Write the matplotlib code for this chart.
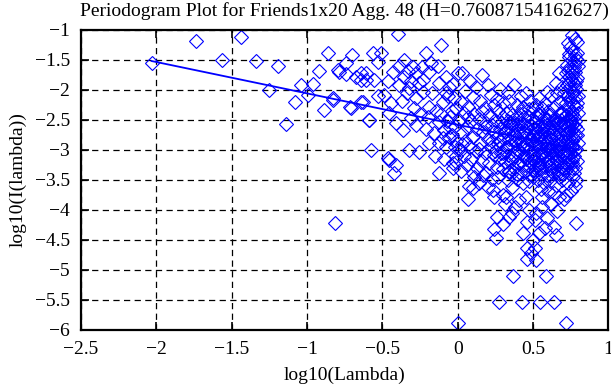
import matplotlib
matplotlib.use("Agg")
import matplotlib.pyplot as plt

# periodogram points, log10(lambda) vs log10(I(lambda))
# low frequencies (sparse left part)
lam_low = [-2.032, -1.734, -1.562, -1.436, -1.339, -1.193, -1.255, -1.041, -1.083, -1.138,
           -0.961, -0.994, -0.924, -0.862, -0.891, -0.829, -0.796, -0.701, -0.740,
           -0.785, -0.745, -0.674, -0.608, -0.641, -0.564, -0.553, -0.641, -0.714, -0.591,
           -0.575, -0.641, -0.608, -0.829, -0.586, -0.707, -0.630, -0.812]
per_low = [-1.56, -1.18, -1.50, -1.115, -1.52, -1.61, -2.00, -1.92, -2.20, -2.57,
           -1.90, -2.09, -1.68, -1.38, -2.34, -2.17, -1.67, -1.42, -1.56,
           -1.70, -1.74, -1.78, -1.72, -1.84, -1.38, -1.84, -2.20, -2.29, -2.50,
           -3.01, -1.72, -1.84, -2.14, -2.50, -2.31, -2.20, -4.22]

# middle frequencies
lam_mid = [-0.509, -0.531, -0.527, -0.465, -0.487, -0.442, -0.454, -0.310, -0.366, -0.321,
           -0.255, -0.465, -0.409, -0.399, -0.354, -0.387, -0.277, -0.321, -0.387, -0.277,
           -0.454, -0.421, -0.43, -0.36, -0.30, -0.34, -0.29, -0.41, -0.33,
           -0.26, -0.24, -0.31, -0.37, -0.25, -0.28,
           -0.211, -0.111, -0.233, -0.189, -0.122, -0.078, 0.0, -0.067, -0.023, -0.189,
           -0.144, -0.233, -0.122, -0.089, -0.156, -0.189, -0.122, -0.056, -0.122, -0.012,
           -0.03, 0.02, -0.012, -0.20, -0.17, -0.10, -0.05, -0.02, -0.08,
           -0.15, -0.04, -0.18, -0.06, -0.13, -0.21, -0.09, -0.01, -0.03, -0.08,
           -0.03, -0.11, -0.05, -0.01, -0.07, -0.04, -0.10, -0.02, 0.0,
           0.03, 0.16, 0.08, 0.12, 0.05, 0.20, 0.22, 0.10, 0.02, 0.15,
           0.07, 0.18, 0.24, 0.04, 0.11, 0.21, 0.01, 0.09, 0.14, 0.19,
           0.23, 0.06, 0.13, 0.17, 0.03, 0.24, 0.10, 0.20, 0.05, 0.15,
           0.08, 0.22, 0.01, 0.12, 0.18, 0.04, 0.24, 0.09, 0.16, 0.21,
           0.06, 0.13, 0.02, 0.19, 0.11, 0.23, 0.065, 0.077, 0.099, 0.14,
           0.20, 0.16, 0.07, 0.18, 0.03, 0.14, 0.23, 0.10, 0.17]
per_mid = [-1.39, -1.53, -2.10, -1.86, -2.09, -2.22, -2.39, -2.47, -2.67, -3.00,
           -3.03, -3.14, -3.25, -1.07, -1.50, -1.61, -1.72, -1.97, -1.92, -2.14,
           -3.17, -3.39, -1.70, -1.78, -1.62, -2.05, -2.30, -2.55, -1.68,
           -1.88, -1.62, -1.85, -2.18, -2.40, -2.58,
           -1.38, -1.25, -1.84, -1.70, -1.89, -1.78, -1.72, -2.11, -2.14, -2.28,
           -2.36, -2.03, -2.53, -2.67, -2.72, -2.89, -2.89, -2.78, -3.39, -3.11,
           -3.22, -3.00, -3.20, -2.45, -2.05, -2.20, -2.45, -2.60, -2.95,
           -3.10, -2.35, -1.55, -1.95, -1.60, -2.65, -3.15, -2.85, -3.30, -2.05,
           -1.90, -2.40, -2.62, -2.30, -2.52, -2.75, -2.80, -2.95, -5.89,
           -1.72, -1.75, -1.85, -1.95, -2.02, -1.92, -2.08, -2.12, -2.20, -2.18,
           -2.28, -2.30, -2.25, -2.38, -2.40, -2.42, -2.50, -2.52, -2.48, -2.55,
           -2.58, -2.62, -2.65, -2.70, -2.72, -2.70, -2.78, -2.82, -2.85, -2.88,
           -2.95, -2.95, -2.98, -3.02, -3.05, -3.10, -3.08, -3.15, -3.18, -3.22,
           -3.25, -3.30, -3.35, -3.38, -3.45, -3.48, -3.81, -3.61, -3.64, -3.55,
           -3.62, -2.35, -2.45, -2.62, -2.90, -2.98, -2.85, -3.38, -3.42]

# high frequencies (dense right part)
lam_high = [0.331, 0.419, 0.28, 0.37, 0.45, 0.48, 0.26, 0.30, 0.34, 0.39,
            0.43, 0.47, 0.27, 0.32, 0.36, 0.41, 0.44, 0.49, 0.25, 0.29,
            0.33, 0.38, 0.42, 0.46, 0.28, 0.31, 0.35, 0.40, 0.44, 0.48,
            0.26, 0.30, 0.34, 0.37, 0.41, 0.45, 0.49, 0.27, 0.32, 0.36,
            0.39, 0.43, 0.47, 0.25, 0.29, 0.33, 0.38, 0.42, 0.46, 0.49,
            0.28, 0.31, 0.35, 0.40, 0.44, 0.48, 0.26, 0.30, 0.34, 0.37,
            0.41, 0.45, 0.49, 0.27, 0.33, 0.39, 0.43, 0.47, 0.242, 0.319,
            0.407, 0.451, 0.231, 0.297, 0.36, 0.30, 0.42, 0.36, 0.46, 0.32,
            0.40, 0.35, 0.44, 0.28, 0.38, 0.48, 0.50, 0.50, 0.50, 0.50,
            0.253, 0.242, 0.297, 0.341, 0.36, 0.430, 0.462, 0.462, 0.485, 0.462,
            0.368, 0.275, 0.425, 0.38, 0.31, 0.47, 0.26,
            0.54, 0.595, 0.672, 0.65, 0.62, 0.58, 0.69, 0.66, 0.56, 0.52,
            0.60, 0.64, 0.68, 0.53, 0.57, 0.61, 0.65, 0.69, 0.51, 0.55,
            0.59, 0.63, 0.67, 0.52, 0.56, 0.60, 0.64, 0.68, 0.54, 0.58,
            0.62, 0.66, 0.70, 0.51, 0.55, 0.59, 0.63, 0.67, 0.53, 0.57,
            0.61, 0.65, 0.69, 0.52, 0.56, 0.60, 0.64, 0.68, 0.54, 0.58,
            0.62, 0.66, 0.70, 0.51, 0.55, 0.59, 0.63, 0.67, 0.53, 0.57,
            0.61, 0.65, 0.69, 0.561, 0.672, 0.705, 0.60, 0.55, 0.64, 0.575,
            0.615, 0.655, 0.535, 0.585, 0.625, 0.545, 0.665, 0.595, 0.635, 0.525,
            0.565, 0.605, 0.645, 0.685, 0.515, 0.555, 0.695, 0.675, 0.685,
            0.513, 0.522, 0.540, 0.513, 0.595, 0.639, 0.650, 0.588, 0.544, 0.639,
            0.52, 0.56, 0.62, 0.66, 0.58, 0.50,
            0.76, 0.728, 0.794, 0.76, 0.78, 0.745, 0.775, 0.79, 0.735, 0.755,
            0.77, 0.785, 0.725, 0.745, 0.795, 0.76, 0.78, 0.715, 0.735, 0.75,
            0.79, 0.77, 0.725, 0.745, 0.785, 0.76, 0.705, 0.73, 0.775, 0.795,
            0.75, 0.715, 0.765, 0.785, 0.735, 0.755, 0.795, 0.72, 0.77, 0.745,
            0.78, 0.705, 0.76, 0.73, 0.79, 0.75, 0.715, 0.775, 0.74, 0.76,
            0.795, 0.725, 0.755, 0.785, 0.71, 0.745, 0.77, 0.73, 0.79, 0.755,
            0.72, 0.78, 0.74, 0.765, 0.73, 0.775, 0.771, 0.760, 0.783, 0.717,
            0.74, 0.77, 0.755, 0.74, 0.78, 0.765, 0.74, 0.79, 0.725, 0.76,
            0.78, 0.735, 0.765, 0.745, 0.775, 0.72, 0.76, 0.795, 0.73, 0.785,
            0.75, 0.71, 0.79, 0.735, 0.70, 0.785, 0.75, 0.72]
per_high = [-2.03, -2.11, -1.98, -1.92, -2.05, -2.18, -2.15, -2.22, -2.18, -2.25,
            -2.28, -2.32, -2.35, -2.38, -2.42, -2.40, -2.45, -2.48, -2.50, -2.55,
            -2.52, -2.58, -2.55, -2.60, -2.65, -2.68, -2.70, -2.65, -2.72, -2.70,
            -2.78, -2.80, -2.82, -2.76, -2.85, -2.80, -2.88, -2.90, -2.95, -2.92,
            -2.98, -2.95, -3.00, -3.02, -3.05, -3.08, -3.10, -3.05, -3.12, -3.08,
            -3.15, -3.20, -3.18, -3.22, -3.25, -3.20, -3.28, -3.32, -3.35, -3.30,
            -3.38, -3.35, -3.42, -3.45, -3.50, -3.48, -3.55, -3.52, -3.78, -3.78,
            -3.83, -3.78, -3.67, -3.75, -3.62, -2.45, -2.35, -2.58, -2.90, -2.62,
            -3.00, -3.40, -3.10, -2.85, -2.88, -2.58, -2.30, -2.75, -3.15, -3.45,
            -4.47, -4.31, -4.23, -4.11, -4.05, -4.39, -4.20, -4.64, -4.72, -4.82,
            -5.10, -5.53, -5.54, -3.95, -3.90, -4.00, -4.12,
            -2.14, -2.03, -1.72, -1.88, -2.10, -2.22, -1.95, -2.05, -2.30, -2.25,
            -2.35, -2.28, -2.20, -2.40, -2.45, -2.42, -2.48, -2.38, -2.52, -2.55,
            -2.58, -2.55, -2.60, -2.65, -2.68, -2.70, -2.66, -2.72, -2.78, -2.80,
            -2.82, -2.78, -2.85, -2.88, -2.90, -2.93, -2.95, -2.90, -3.00, -3.02,
            -3.05, -3.00, -3.08, -3.12, -3.15, -3.18, -3.12, -3.20, -3.25, -3.28,
            -3.30, -3.25, -3.32, -3.35, -3.40, -3.42, -3.38, -3.45, -3.50, -3.55,
            -3.52, -3.58, -3.50, -3.78, -3.78, -3.81, -3.68, -3.65, -3.72, -2.60,
            -2.75, -2.92, -2.95, -3.10, -3.22, -3.30, -3.38, -2.48, -2.62, -2.72,
            -2.85, -2.98, -3.05, -2.95, -3.20, -3.05, -2.55, -2.40, -3.38,
            -4.64, -4.83, -4.39, -4.17, -4.14, -4.28, -4.42, -5.10, -5.54, -5.53,
            -4.05, -3.95, -3.90, -4.02, -4.30, -4.50,
            -1.09, -1.22, -1.20, -1.34, -1.15, -1.28, -1.42, -1.38, -1.45, -1.50,
            -1.55, -1.48, -1.58, -1.62, -1.60, -1.68, -1.70, -1.72, -1.78, -1.82,
            -1.80, -1.88, -1.92, -1.95, -1.98, -2.02, -2.05, -2.08, -2.12, -2.10,
            -2.18, -2.22, -2.25, -2.28, -2.32, -2.35, -2.38, -2.42, -2.45, -2.50,
            -2.52, -2.55, -2.58, -2.62, -2.65, -2.68, -2.72, -2.75, -2.80, -2.85,
            -2.88, -2.90, -2.95, -2.98, -3.02, -3.05, -3.10, -3.15, -3.18, -3.22,
            -3.28, -3.30, -3.38, -3.45, -3.55, -3.60, -3.39, -3.17, -4.22, -5.88,
            -1.40, -1.62, -1.75, -1.88, -1.92, -2.05, -2.15, -2.22, -2.28, -2.40,
            -2.60, -2.70, -2.78, -2.92, -3.00, -3.12, -3.30, -1.52, -1.68, -1.85,
            -2.45, -2.60, -2.75, -3.22, -3.40, -3.50, -3.68, -3.75]

# extra points in the solid core of the cloud
lam_core = [0.312, 0.357, 0.398, 0.436, 0.471, 0.503, 0.538, 0.567, 0.594, 0.621, 0.648, 0.673, 0.698, 0.721, 0.744,
            0.325, 0.368, 0.409, 0.447, 0.482, 0.514, 0.546, 0.577, 0.603, 0.631, 0.657, 0.681, 0.706, 0.729, 0.752,
            0.338, 0.379, 0.417, 0.455, 0.491, 0.524, 0.553, 0.584, 0.611, 0.639, 0.662, 0.688, 0.712, 0.737, 0.758,
            0.346, 0.386, 0.426, 0.463, 0.497, 0.531, 0.561, 0.589, 0.617, 0.644, 0.669, 0.693, 0.716, 0.741, 0.766,
            0.303, 0.351, 0.392, 0.431, 0.477, 0.508, 0.541, 0.572, 0.599, 0.626, 0.653, 0.678, 0.702, 0.724, 0.749]
per_core = [-2.71, -3.13, -2.47, -2.93, -3.27, -2.63, -2.41, -3.07, -2.87, -3.36, -2.52, -3.01, -2.79, -2.44, -3.18,
            -2.96, -2.56, -3.22, -2.68, -2.99, -3.31, -2.74, -2.49, -3.26, -2.91, -2.57, -3.14, -2.66, -3.04, -2.83,
            -3.37, -2.84, -2.61, -3.16, -2.77, -2.46, -3.09, -2.97, -2.64, -2.76, -3.33, -2.51, -3.21, -2.58, -2.94,
            -2.53, -3.03, -2.89, -2.43, -3.34, -2.81, -2.62, -3.19, -2.99, -2.47, -2.86, -3.28, -2.73, -2.97, -3.12,
            -3.06, -2.66, -3.41, -2.57, -2.82, -3.08, -3.23, -2.72, -3.44, -2.69, -3.17, -2.39, -3.06, -2.86, -2.54]

# least squares fit line (slope = 1 - 2H)
fit_x = [-2.032, 0.80]
fit_y = [-1.52, -3.00]

ticks_x = [-2.5, -2, -1.5, -1, -0.5, 0, 0.5, 1]
ticks_y = [-1, -1.5, -2, -2.5, -3, -3.5, -4, -4.5, -5, -5.5, -6]

plt.rcParams["font.family"] = ["Liberation Serif", "DejaVu Serif"]
plt.rcParams["font.size"] = 14

fig = plt.figure(figsize=(6.11, 3.85), dpi=100)
ax = fig.add_axes([0.1326, 0.1429, 0.8633, 0.7797])

lam = lam_low + lam_mid + lam_high + lam_core
per = per_low + per_mid + per_high + per_core
ax.plot(lam, per, linestyle="none", marker="D", markersize=7,
        markerfacecolor="none", markeredgecolor="#0000ff", markeredgewidth=0.8)
ax.plot(fit_x, fit_y, color="#0000ff", linewidth=1.3)

ax.set_xlim(-2.5, 1)
ax.set_ylim(-6, -1)
ax.set_xticks(ticks_x)
ax.set_yticks(ticks_y)
ax.set_xticklabels(["\u22122.5", "\u22122", "\u22121.5", "\u22121", "\u22120.5", "0", "0.5", "1"])
ax.set_yticklabels(["\u22121", "\u22121.5", "\u22122", "\u22122.5", "\u22123", "\u22123.5",
                    "\u22124", "\u22124.5", "\u22125", "\u22125.5", "\u22126"])
ax.grid(True, color="black", linestyle=(0, (5, 3.5)), linewidth=0.9)
ax.set_axisbelow(True)
ax.tick_params(direction="in", length=6, width=1.2, top=True, right=True, pad=8)
for s in ax.spines.values():
    s.set_linewidth(1.6)

ax.set_title("Periodogram Plot for Friends1x20 Agg. 48 (H=0.76087154162627)",
             fontsize=14, pad=10)
ax.set_xlabel("log10(Lambda)", labelpad=6)
ax.set_ylabel("log10(I(lambda))", labelpad=6)

fig.savefig("out.png", dpi=100)
